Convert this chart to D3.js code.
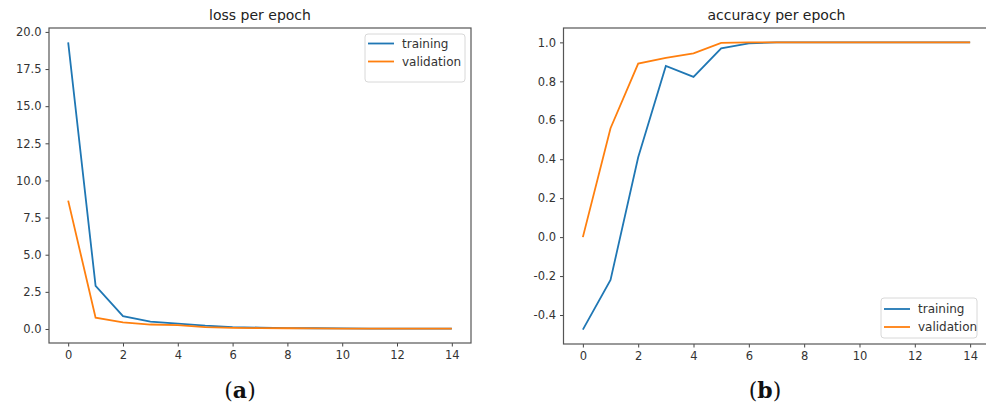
<!DOCTYPE html>
<html>
<head>
  <meta charset="utf-8">
  <style>
    body { margin: 0; padding: 0; background: #fff; }
    svg { display: block; }
    .tick text { font-family: "DejaVu Sans", sans-serif; font-size: 11.5px; fill: #333; }
    .tick line { stroke: #444; }
    .title { font-family: "DejaVu Sans", sans-serif; font-size: 14px; fill: #222; }
    .leg { font-family: "DejaVu Sans", sans-serif; font-size: 12px; fill: #333; }
    .panel-label { font-family: "DejaVu Serif", serif; font-size: 22px; fill: #111; }
  </style>
</head>
<body>
  <div id="chart"></div>
  <script src="https://cdn.jsdelivr.net/npm/d3@7"></script>
  <script>
    // epochs 0..14
    var epochs = [0, 1, 2, 3, 4, 5, 6, 7, 8, 9, 10, 11, 12, 13, 14];
    var lossTrain = [19.3, 2.9, 0.87, 0.5, 0.36, 0.22, 0.13, 0.09, 0.06, 0.05, 0.04, 0.03, 0.03, 0.02, 0.02];
    var lossVal = [8.64, 0.76, 0.45, 0.3, 0.26, 0.12, 0.08, 0.06, 0.05, 0.04, 0.03, 0.03, 0.02, 0.02, 0.02];
    var accTrain = [-0.475, -0.22, 0.41, 0.879, 0.823, 0.969, 0.995, 1.0, 1.0, 1.0, 1.0, 1.0, 1.0, 1.0, 1.0];
    var accVal = [0.0, 0.559, 0.891, 0.92, 0.944, 0.997, 1.0, 1.0, 1.0, 1.0, 1.0, 1.0, 1.0, 1.0, 1.0];
    var xTicks = [0, 2, 4, 6, 8, 10, 12, 14];
    var lossTicks = [0, 2.5, 5, 7.5, 10, 12.5, 15, 17.5, 20];
    var accTicks = [-0.4, -0.2, 0, 0.2, 0.4, 0.6, 0.8, 1.0];
    var seriesNames = ['training', 'validation'];
    var colors = ['#1f77b4', '#ff7f0e'];

    var svg = d3.select('#chart').append('svg').attr('width', 986).attr('height', 410);

    function oneDecimal(d) { return d.toFixed(1); }

    function drawPanel(p) {
      var g = svg.append('g').attr('transform', 'translate(' + p.left + ',' + p.top + ')');
      var w = p.width, h = p.height;
      var all = p.series[0].concat(p.series[1]);
      var ext = d3.extent(all);
      var pad = (ext[1] - ext[0]) * 0.05;
      var x = d3.scaleLinear().domain([-0.7, 14.7]).range([0, w]);
      var y = d3.scaleLinear().domain([ext[0] - pad, ext[1] + pad]).range([h, 0]);

      g.append('g').attr('transform', 'translate(0,' + h + ')')
        .call(d3.axisBottom(x).tickValues(xTicks).tickSize(3.5).tickPadding(4).tickFormat(d3.format('d')))
        .call(function(a) { a.select('.domain').remove(); });
      g.append('g')
        .call(d3.axisLeft(y).tickValues(p.ticks).tickSize(3.5).tickPadding(4).tickFormat(oneDecimal))
        .call(function(a) { a.select('.domain').remove(); });

      var line = d3.line().x(function(d, i) { return x(epochs[i]); }).y(function(d) { return y(d); });
      p.series.forEach(function(s, i) {
        g.append('path').datum(s).attr('d', line)
          .attr('fill', 'none').attr('stroke', colors[i]).attr('stroke-width', 1.8);
      });

      g.append('rect').attr('width', w).attr('height', h)
        .attr('fill', 'none').attr('stroke', '#555').attr('stroke-width', 1.2);

      g.append('text').attr('class', 'title').attr('x', w / 2).attr('y', -8)
        .attr('text-anchor', 'middle').text(p.title);

      // legend
      var lg = g.append('g').attr('transform', 'translate(' + p.leg[0] + ',' + p.leg[1] + ')');
      lg.append('rect').attr('width', p.leg[2]).attr('height', p.leg[3]).attr('rx', 3)
        .attr('fill', '#fff').attr('fill-opacity', 0.8).attr('stroke', '#d8d8d8');
      seriesNames.forEach(function(n, i) {
        var yy = p.legRow0 + i * p.legStep;
        lg.append('line').attr('x1', 3).attr('x2', 29).attr('y1', yy).attr('y2', yy)
          .attr('stroke', colors[i]).attr('stroke-width', 1.8);
        lg.append('text').attr('class', 'leg').attr('x', 37).attr('y', yy).attr('dy', '0.35em').text(n);
      });

      svg.append('text').attr('class', 'panel-label').attr('x', p.labelX).attr('y', 398)
        .attr('text-anchor', 'middle')
        .html('(<tspan font-weight="bold">' + p.label + '</tspan>)');
    }

    drawPanel({
      left: 49, top: 28, width: 422, height: 315,
      series: [lossTrain, lossVal], ticks: lossTicks,
      title: 'loss per epoch', leg: [316, 6, 100, 48], legRow0: 9.5, legStep: 18,
      label: 'a', labelX: 240
    });
    drawPanel({
      left: 563.5, top: 28, width: 426, height: 316,
      series: [accTrain, accVal], ticks: accTicks,
      title: 'accuracy per epoch', leg: [317.5, 270, 96, 40], legRow0: 11, legStep: 18,
      label: 'b', labelX: 765
    });
  </script>
</body>
</html>
